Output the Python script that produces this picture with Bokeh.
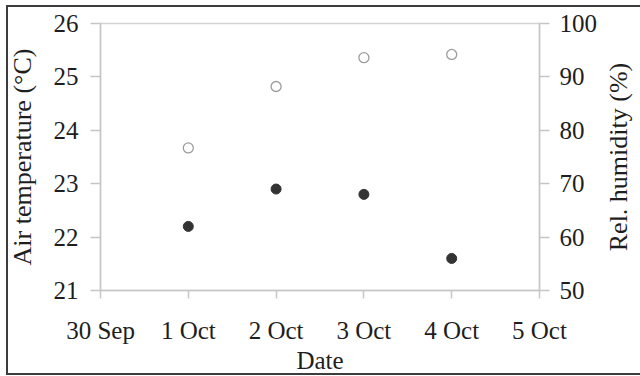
from bokeh.plotting import figure
from bokeh.layouts import row
from bokeh.models import (Range1d, LinearAxis, FixedTicker, ColumnDataSource)
from bokeh.embed import file_html
from bokeh.resources import INLINE

# ---- data ----
date_labels = ["30 Sep", "1 Oct", "2 Oct", "3 Oct", "4 Oct", "5 Oct"]
obs_dates = ["1 Oct", "2 Oct", "3 Oct", "4 Oct"]
air_temp = [22.2, 22.9, 22.8, 21.6]
rel_humidity = [76.7, 88.2, 93.6, 94.2]
temp_ticks = [21, 22, 23, 24, 25, 26]
rh_ticks = [50, 60, 70, 80, 90, 100]

xpos = [date_labels.index(d) for d in obs_dates]
src = ColumnDataSource(dict(x=xpos, t=air_temp, rh=rel_humidity))

FONT = "Liberation Serif"
AX = "#c6c6c6"
TXT = "#1e1e1e"
FR = "#3c3c3c"
TOP, BOTTOM = 23, 84

p = figure(width=600, height=376, output_backend="svg", toolbar_location=None,
           x_range=Range1d(0, 5), y_range=Range1d(21, 26),
           min_border_left=100, min_border_right=60, min_border_top=TOP,
           min_border_bottom=BOTTOM)
p.extra_y_ranges = {"rh": Range1d(50, 100)}

p.xgrid.visible = False
p.ygrid.visible = False
p.outline_line_color = "#d4d4d4"
p.outline_line_width = 1.5
p.background_fill_color = "white"
p.border_fill_color = None

# bottom axis
xa = p.xaxis[0]
xa.ticker = FixedTicker(ticks=list(range(len(date_labels))))
xa.major_label_overrides = {i: s for i, s in enumerate(date_labels)}
xa.axis_label = "Date"
xa.major_tick_out = 8
xa.major_tick_in = 0
xa.major_label_standoff = 18
xa.axis_label_standoff = 0

# left axis
ya = p.yaxis[0]
ya.ticker = FixedTicker(ticks=temp_ticks)
ya.axis_label = "Air temperature (°C)"
ya.major_tick_out = 10
ya.major_tick_in = 0
ya.major_label_standoff = 12
ya.axis_label_standoff = 14

# right axis
ra = LinearAxis(y_range_name="rh", ticker=FixedTicker(ticks=rh_ticks))
ra.major_tick_out = 10
ra.major_tick_in = 0
ra.major_label_standoff = 10
p.add_layout(ra, "right")

for ax in [xa, ya, ra]:
    ax.axis_line_color = AX
    ax.axis_line_width = 1.5
    ax.major_tick_line_color = AX
    ax.major_tick_line_width = 1.5
    ax.minor_tick_line_color = None
    ax.major_label_text_font = FONT
    ax.major_label_text_font_size = "25px"
    ax.major_label_text_color = TXT
    ax.axis_label_text_font = FONT
    ax.axis_label_text_font_size = "25px"
    ax.axis_label_text_font_style = "normal"
    ax.axis_label_text_color = TXT
ya.axis_label_text_font_size = "26px"

# series
p.scatter("x", "rh", source=src, y_range_name="rh", size=10, marker="circle",
          fill_color="white", line_color="#9c9c9c", line_width=1.3)
p.scatter("x", "t", source=src, size=10, marker="circle",
          fill_color="#333333", line_color="#333333")

# narrow strip holding the right-hand title (reads bottom to top)
p2 = figure(width=40, height=376, output_backend="svg", toolbar_location=None,
            x_range=Range1d(0, 1), y_range=Range1d(50, 100), x_axis_location=None,
            min_border_left=38, min_border_right=0, min_border_top=TOP,
            min_border_bottom=BOTTOM)
p2.xgrid.visible = False
p2.ygrid.visible = False
p2.outline_line_color = None
p2.background_fill_color = None
p2.border_fill_color = None
a2 = p2.yaxis[0]
a2.ticker = FixedTicker(ticks=[])
a2.axis_line_color = None
a2.major_tick_out = 0
a2.major_tick_in = 0
a2.minor_tick_line_color = None
a2.major_label_standoff = 0
a2.axis_label = "Rel. humidity (%)"
a2.axis_label_standoff = 6
a2.axis_label_text_font = FONT
a2.axis_label_text_font_size = "26px"
a2.axis_label_text_font_style = "normal"
a2.axis_label_text_color = TXT

layout = row(p, p2)
g = f"linear-gradient({FR}, {FR})"
layout.styles = {"background": f"{g} 6px 5px / 2px 370px no-repeat, "
                               f"{g} 6px 5px / 640px 2px no-repeat, "
                               f"{g} 6px 373px / 640px 2px no-repeat, white",
                 "vertical-align": "top"}

open("out.html", "w").write(file_html(layout, INLINE))
